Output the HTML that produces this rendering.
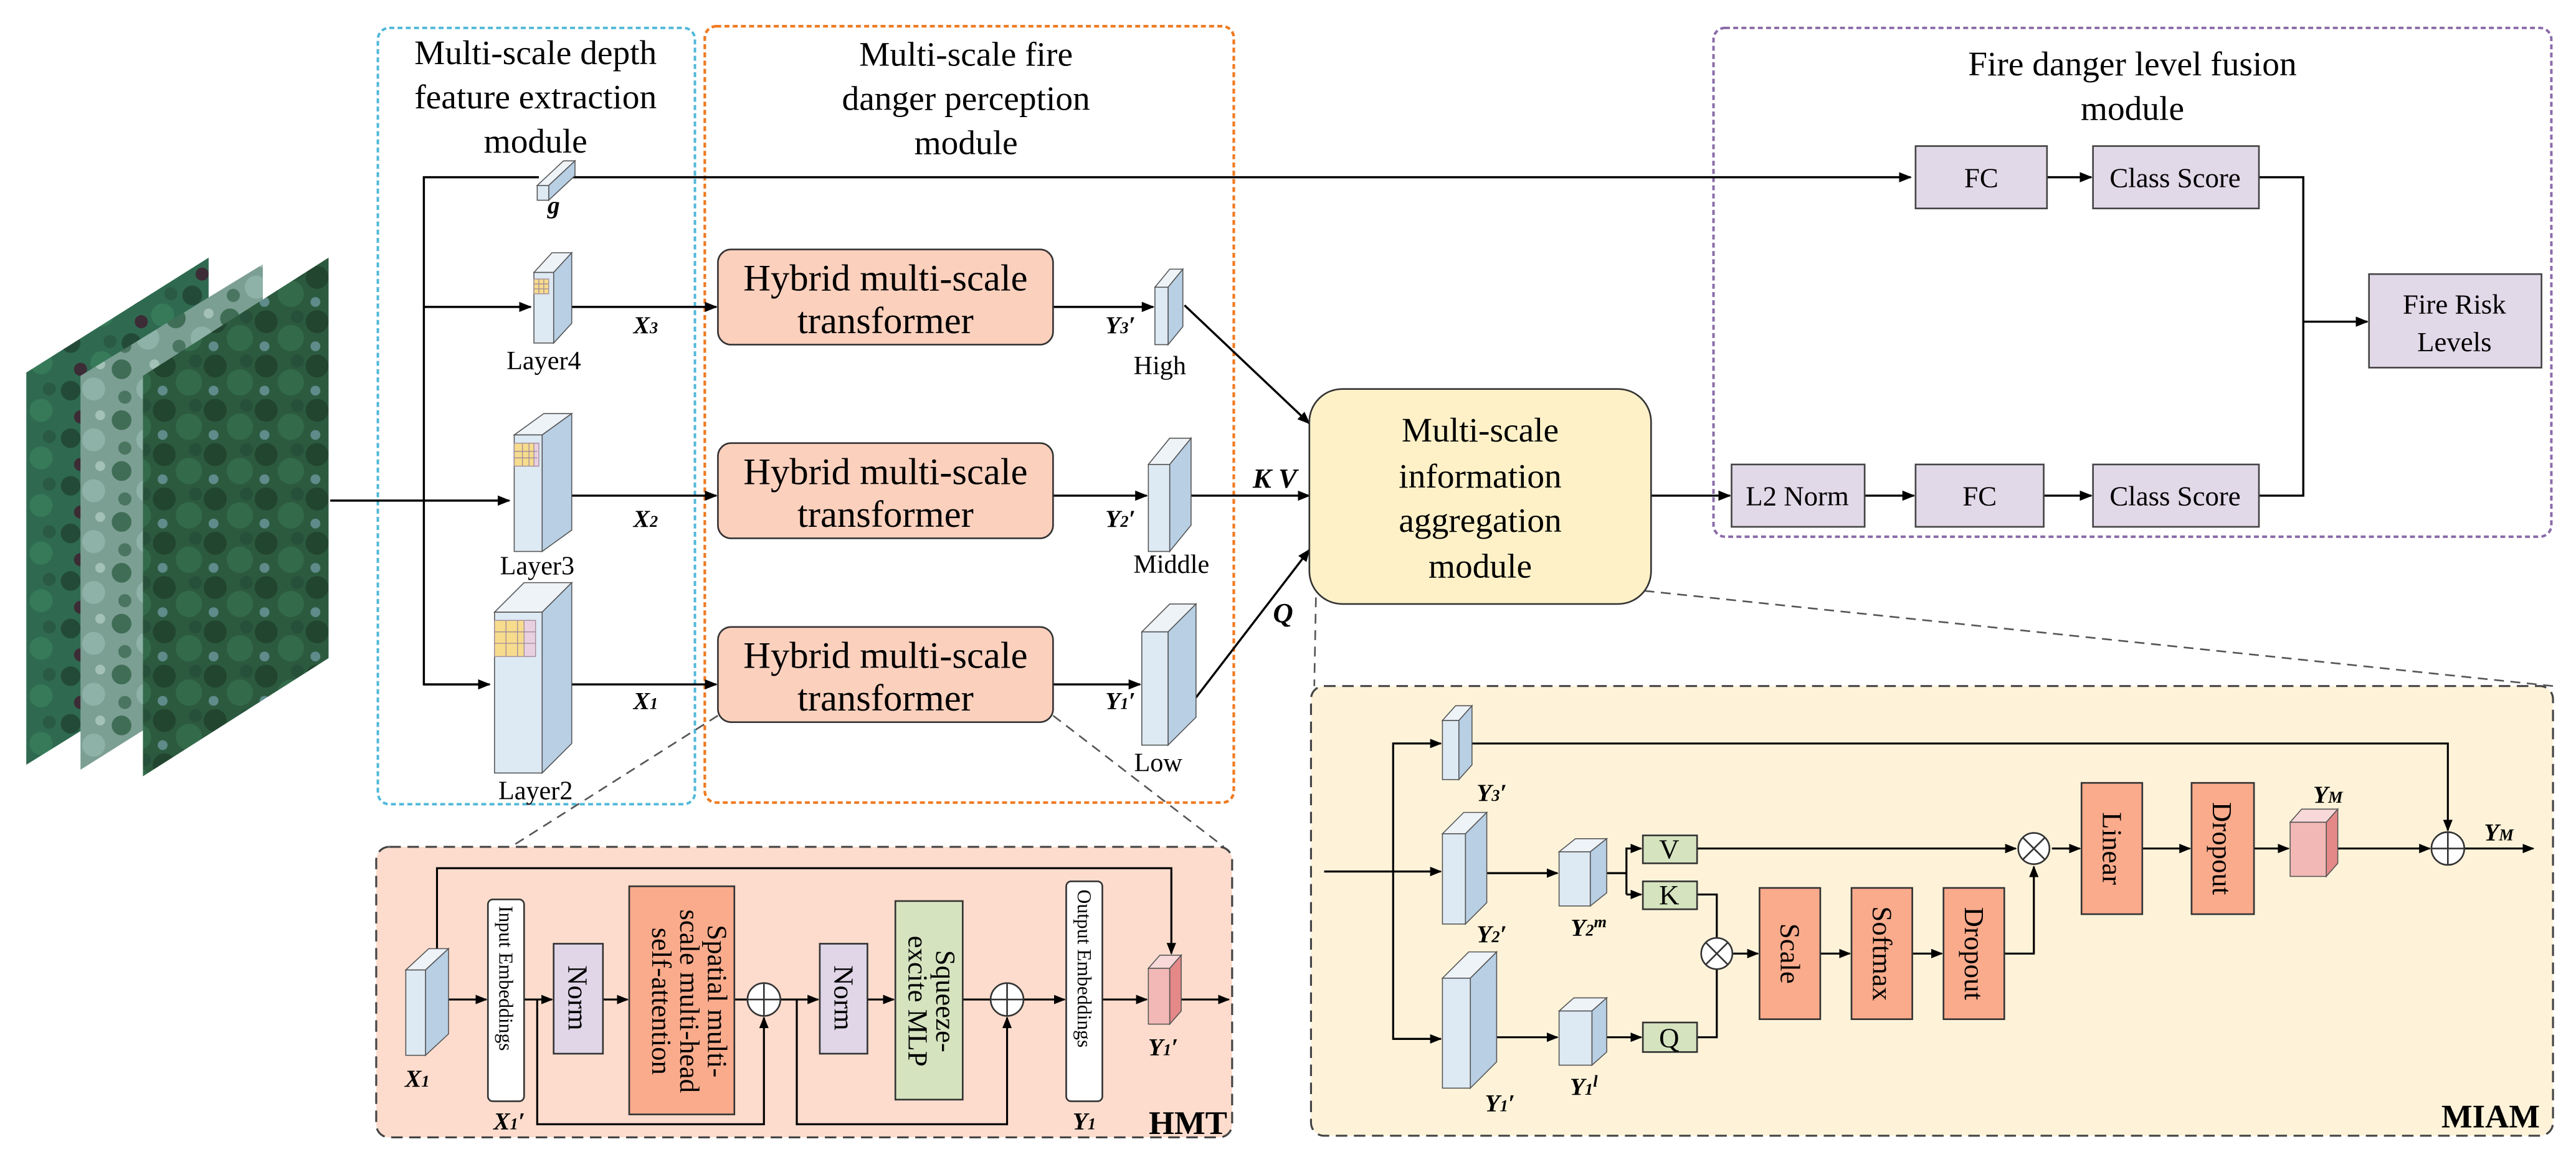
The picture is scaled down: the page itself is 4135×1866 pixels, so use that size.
<!DOCTYPE html>
<html><head><meta charset="utf-8"><style>
html,body{margin:0;padding:0;background:#fff}
svg{display:block}
text{font-family:"Liberation Serif",serif;fill:#000}
.it{font-style:italic;font-weight:bold}
</style></head><body>
<svg width="4135" height="1866" viewBox="0 0 1568 708" preserveAspectRatio="none" xmlns="http://www.w3.org/2000/svg">
<defs>
<marker id="a" viewBox="0 0 10 10" refX="9" refY="5" markerWidth="6" markerHeight="6" orient="auto"><path d="M0,1 L10,5 L0,9 z" fill="#000"/></marker>
<pattern id="t1" width="37" height="29" patternUnits="userSpaceOnUse"><rect width="37" height="29" fill="#2f6a50"/><circle cx="6" cy="6" r="6" fill="#234a38"/><circle cx="25" cy="18" r="7" fill="#367a5a"/><circle cx="12" cy="22" r="4" fill="#3c2c36"/><circle cx="30" cy="5" r="4" fill="#2a5a44"/></pattern>
<pattern id="t2" width="33" height="31" patternUnits="userSpaceOnUse"><rect width="33" height="31" fill="#7c9f94"/><circle cx="8" cy="8" r="6" fill="#3f6d55"/><circle cx="24" cy="20" r="7" fill="#8fb2a8"/><circle cx="10" cy="25" r="4" fill="#4a7560"/><circle cx="28" cy="5" r="3" fill="#a4c1b8"/></pattern>
<pattern id="t3" width="31" height="27" patternUnits="userSpaceOnUse"><rect width="31" height="27" fill="#2c5a3f"/><circle cx="7" cy="7" r="7" fill="#22452f"/><circle cx="22" cy="17" r="8" fill="#336b4a"/><circle cx="6" cy="22" r="3" fill="#5f8c8a"/><circle cx="26" cy="4" r="4" fill="#27503a"/></pattern>
</defs>

<polygon points="16,227 127,157 127,397 16,466" fill="url(#t1)"/>
<polygon points="49,229 160,161 160,399 49,469" fill="url(#t2)"/>
<polygon points="87,229 200,157 200,401 87,473" fill="url(#t3)"/>

<rect x="230" y="17" width="193" height="473" rx="7" fill="none" stroke="#4fb8d8" stroke-width="1.5" stroke-dasharray="3,2"/>
<rect x="429" y="16" width="322" height="473" rx="7" fill="none" stroke="#f07a20" stroke-width="1.6" stroke-dasharray="3,2"/>
<rect x="1043" y="17" width="510" height="310" rx="7" fill="none" stroke="#8a6aa8" stroke-width="1.5" stroke-dasharray="3,2"/>

<g font-size="21" text-anchor="middle">
<text x="326" y="39">Multi-scale depth</text>
<text x="326" y="66">feature extraction</text>
<text x="326" y="93">module</text>
<text x="588" y="40">Multi-scale fire</text>
<text x="588" y="67">danger perception</text>
<text x="588" y="94">module</text>
<text x="1298" y="46">Fire danger level fusion</text>
<text x="1298" y="73">module</text>
</g>

<g stroke="#000" stroke-width="1.3" fill="none">
<line x1="201" y1="305" x2="310" y2="305" marker-end="url(#a)"/>
<polyline points="328,108 258,108 258,417 296,417" />
<line x1="258" y1="417" x2="298" y2="417" marker-end="url(#a)"/>
<line x1="258" y1="187" x2="323" y2="187" marker-end="url(#a)"/>
<line x1="336" y1="108" x2="1163" y2="108" marker-end="url(#a)"/>
<line x1="337" y1="187" x2="436" y2="187" marker-end="url(#a)"/>
<line x1="331" y1="302" x2="436" y2="302" marker-end="url(#a)"/>
<line x1="331" y1="417" x2="436" y2="417" marker-end="url(#a)"/>
<line x1="641" y1="187" x2="702" y2="187" marker-end="url(#a)"/>
<line x1="641" y1="302" x2="698" y2="302" marker-end="url(#a)"/>
<line x1="641" y1="417" x2="694" y2="417" marker-end="url(#a)"/>
<line x1="721" y1="186" x2="797" y2="258" marker-end="url(#a)"/>
<line x1="725" y1="302" x2="797" y2="302" marker-end="url(#a)"/>
<line x1="728" y1="425" x2="797" y2="335" marker-end="url(#a)"/>
<line x1="1005" y1="302" x2="1053" y2="302" marker-end="url(#a)"/>
<line x1="1135" y1="302" x2="1165" y2="302" marker-end="url(#a)"/>
<line x1="1244" y1="302" x2="1273" y2="302" marker-end="url(#a)"/>
<line x1="1246" y1="108" x2="1273" y2="108" marker-end="url(#a)"/>
<polyline points="1375,108 1402,108 1402,302 1375,302"/>
<line x1="1402" y1="196" x2="1441" y2="196" marker-end="url(#a)"/>
</g>
<g stroke="#555" stroke-width="1" stroke-dasharray="6,4" fill="none">
<line x1="437" y1="436" x2="311" y2="516"/>
<line x1="641" y1="436" x2="745" y2="516"/>
<line x1="801" y1="364" x2="800" y2="418"/>
<line x1="1001" y1="360" x2="1554" y2="418"/>
</g>

<g stroke="#555" stroke-width="0.6">
<polygon points="327,113 343,98 350,98 334,113" fill="#eef3f8"/><polygon points="334,113 350,98 350,107 334,122" fill="#b8cfe4"/><rect x="327" y="113" width="7" height="9" fill="#dde9f3"/>
<polygon points="325,166 336,154 348,154 337,166" fill="#eef3f8"/><polygon points="337,166 348,154 348,197 337,209" fill="#b8cfe4"/><rect x="325" y="166" width="12" height="43" fill="#dde9f3"/>
<polygon points="313,265 331,252 348,252 330,265" fill="#eef3f8"/><polygon points="330,265 348,252 348,323 330,336" fill="#b8cfe4"/><rect x="313" y="265" width="17" height="71" fill="#dde9f3"/>
<polygon points="301,373 319,355 348,355 330,373" fill="#eef3f8"/><polygon points="330,373 348,355 348,453 330,471" fill="#b8cfe4"/><rect x="301" y="373" width="29" height="98" fill="#dde9f3"/>
<polygon points="703,175 712,164 720,164 711,175" fill="#eef3f8"/><polygon points="711,175 720,164 720,199 711,210" fill="#b8cfe4"/><rect x="703" y="175" width="8" height="35" fill="#dde9f3"/>
<polygon points="699,283 712,267 725,267 712,283" fill="#eef3f8"/><polygon points="712,283 725,267 725,320 712,336" fill="#b8cfe4"/><rect x="699" y="283" width="13" height="53" fill="#dde9f3"/>
<polygon points="695,385 712,368 728,368 711,385" fill="#eef3f8"/><polygon points="711,385 728,368 728,437 711,454" fill="#b8cfe4"/><rect x="695" y="385" width="16" height="69" fill="#dde9f3"/>
</g>
<g stroke="#a08a9a" stroke-width="0.5">
<rect x="325" y="170" width="9" height="9" fill="#f6dc8c"/><line x1="328" y1="170" x2="328" y2="179"/><line x1="331" y1="170" x2="331" y2="179"/><line x1="325" y1="173" x2="334" y2="173"/><line x1="325" y1="176" x2="334" y2="176"/>
<rect x="313" y="270" width="14" height="14" fill="#f6dc8c"/><rect x="325" y="270" width="3" height="14" fill="#e8d0e0"/><line x1="318" y1="270" x2="318" y2="284"/><line x1="322" y1="270" x2="322" y2="284"/><line x1="313" y1="275" x2="327" y2="275"/><line x1="313" y1="279" x2="327" y2="279"/>
<rect x="301" y="378" width="22" height="22" fill="#f6dc8c"/><rect x="319" y="378" width="7" height="22" fill="#e8d0e0"/><line x1="308" y1="378" x2="308" y2="400"/><line x1="315" y1="378" x2="315" y2="400"/><line x1="301" y1="385" x2="326" y2="385"/><line x1="301" y1="392" x2="326" y2="392"/>
</g>

<g fill="#fbd0bd" stroke="#333" stroke-width="1">
<rect x="437" y="152" width="204" height="58" rx="8"/>
<rect x="437" y="270" width="204" height="58" rx="8"/>
<rect x="437" y="382" width="204" height="58" rx="8"/>
</g>
<g font-size="23" text-anchor="middle">
<text x="539" y="177">Hybrid multi-scale</text><text x="539" y="203">transformer</text>
<text x="539" y="295">Hybrid multi-scale</text><text x="539" y="321">transformer</text>
<text x="539" y="407">Hybrid multi-scale</text><text x="539" y="433">transformer</text>
</g>
<g font-size="16" text-anchor="middle">
<text x="331" y="225">Layer4</text><text x="327" y="350">Layer3</text><text x="326" y="487">Layer2</text>
<text x="706" y="228">High</text><text x="713" y="349">Middle</text><text x="705" y="470">Low</text>
</g>
<g font-size="15" class="it" text-anchor="middle">
<text x="337" y="130">g</text>
<text x="393" y="203">X<tspan font-size="10">3</tspan></text>
<text x="393" y="321">X<tspan font-size="10">2</tspan></text>
<text x="393" y="432">X<tspan font-size="10">1</tspan></text>
<text x="682" y="203">Y<tspan font-size="10">3</tspan>′</text>
<text x="682" y="321">Y<tspan font-size="10">2</tspan>′</text>
<text x="682" y="432">Y<tspan font-size="10">1</tspan>′</text>
<text x="776" y="297" font-size="17">K V</text>
<text x="781" y="379" font-size="17">Q</text>
</g>

<rect x="797" y="237" width="208" height="131" rx="20" fill="#fef1c8" stroke="#333" stroke-width="1"/>
<g font-size="21" text-anchor="middle">
<text x="901" y="269">Multi-scale</text><text x="901" y="297">information</text><text x="901" y="324">aggregation</text><text x="901" y="352">module</text>
</g>

<g fill="#e1d8e8" stroke="#444" stroke-width="1">
<rect x="1166" y="89" width="80" height="38"/>
<rect x="1274" y="89" width="101" height="38"/>
<rect x="1442" y="167" width="105" height="57"/>
<rect x="1054" y="283" width="81" height="38"/>
<rect x="1166" y="283" width="78" height="38"/>
<rect x="1274" y="283" width="101" height="38"/>
</g>
<g font-size="17" text-anchor="middle">
<text x="1206" y="114">FC</text><text x="1324" y="114">Class Score</text>
<text x="1494" y="191">Fire Risk</text><text x="1494" y="214">Levels</text>
<text x="1094" y="308">L2 Norm</text><text x="1205" y="308">FC</text><text x="1324" y="308">Class Score</text>
</g>

<rect x="229" y="516" width="521" height="177" rx="8" fill="#fddccd" stroke="#444" stroke-width="1.2" stroke-dasharray="7,4"/>
<g stroke="#000" stroke-width="1.2" fill="none">
<polyline points="266,578 266,529 713,529 713,581" marker-end="url(#a)"/>
<line x1="273" y1="609" x2="296" y2="609" marker-end="url(#a)"/>
<line x1="319" y1="609" x2="336" y2="609" marker-end="url(#a)"/>
<line x1="367" y1="609" x2="382" y2="609" marker-end="url(#a)"/>
<line x1="447" y1="609" x2="455" y2="609"/>
<line x1="475" y1="609" x2="498" y2="609" marker-end="url(#a)"/>
<line x1="528" y1="609" x2="544" y2="609" marker-end="url(#a)"/>
<line x1="586" y1="609" x2="603" y2="609"/>
<line x1="623" y1="609" x2="648" y2="609" marker-end="url(#a)"/>
<line x1="671" y1="609" x2="698" y2="609" marker-end="url(#a)"/>
<line x1="719" y1="609" x2="748" y2="609" marker-end="url(#a)"/>
<polyline points="327,609 327,685 465,685 465,620" marker-end="url(#a)"/>
<polyline points="485,609 485,685 613,685 613,620" marker-end="url(#a)"/>
</g>
<g stroke="#555" stroke-width="0.6">
<polygon points="247,591 261,578 273,578 259,591" fill="#eef3f8"/><polygon points="259,591 273,578 273,630 259,643" fill="#b8cfe4"/><rect x="247" y="591" width="12" height="52" fill="#dde9f3"/>
<polygon points="699,590 706,582 719,582 712,590" fill="#f8d8d8"/><polygon points="712,590 719,582 719,616 712,624" fill="#e48888"/><rect x="699" y="590" width="13" height="34" fill="#f2b8b5"/>
</g>
<g stroke="#333" stroke-width="1">
<rect x="297" y="548" width="22" height="123" rx="3" fill="#fff"/>
<rect x="337" y="575" width="30" height="67" fill="#e0d6e8"/>
<rect x="383" y="540" width="64" height="139" fill="#f9ab8c"/>
<rect x="499" y="575" width="29" height="67" fill="#e0d6e8"/>
<rect x="545" y="549" width="41" height="121" fill="#d5e3bf"/>
<rect x="649" y="537" width="22" height="134" rx="3" fill="#fff"/>
<circle cx="465" cy="609" r="10" fill="#fff"/><circle cx="613" cy="609" r="10" fill="#fff"/>
<line x1="455" y1="609" x2="475" y2="609"/><line x1="465" y1="599" x2="465" y2="619"/>
<line x1="603" y1="609" x2="623" y2="609"/><line x1="613" y1="599" x2="613" y2="619"/>
</g>
<g font-size="12">
<text transform="translate(304,552) rotate(90)">Input Embeddings</text>
<text transform="translate(656,542) rotate(90)">Output Embeddings</text>
</g>
<g font-size="17" text-anchor="middle">
<text transform="translate(346,608) rotate(90)">Norm</text>
<text transform="translate(508,608) rotate(90)">Norm</text>
<text transform="translate(431,610) rotate(90)">Spatial multi-</text>
<text transform="translate(414,610) rotate(90)">scale multi-head</text>
<text transform="translate(397,610) rotate(90)">self-attention</text>
<text transform="translate(570,610) rotate(90)">Squeeze-</text>
<text transform="translate(553,610) rotate(90)">excite MLP</text>
</g>
<g font-size="15" class="it" text-anchor="middle">
<text x="254" y="662">X<tspan font-size="10">1</tspan></text>
<text x="310" y="688">X<tspan font-size="10">1</tspan>′</text>
<text x="660" y="688">Y<tspan font-size="10">1</tspan></text>
<text x="708" y="643">Y<tspan font-size="10">1</tspan>′</text>
</g>
<text x="747" y="691" font-size="20" font-weight="bold" text-anchor="end">HMT</text>

<rect x="798" y="418" width="756" height="274" rx="8" fill="#fef3d9" stroke="#444" stroke-width="1.2" stroke-dasharray="7,4"/>
<g stroke="#000" stroke-width="1.2" fill="none">
<line x1="806" y1="531" x2="877" y2="531" marker-end="url(#a)"/>
<polyline points="877,453 848,453 848,633 877,633" />
<line x1="848" y1="453" x2="877" y2="453" marker-end="url(#a)"/>
<line x1="848" y1="633" x2="877" y2="633" marker-end="url(#a)"/>
<polyline points="896,453 1490,453 1490,506" marker-end="url(#a)"/>
<line x1="905" y1="532" x2="948" y2="532" marker-end="url(#a)"/>
<line x1="911" y1="632" x2="948" y2="632" marker-end="url(#a)"/>
<line x1="978" y1="632" x2="999" y2="632" marker-end="url(#a)"/>
<polyline points="978,532 990,532"/>
<polyline points="990,545 990,517 999,517" marker-end="url(#a)"/>
<line x1="990" y1="545" x2="999" y2="545" marker-end="url(#a)"/>
<polyline points="1033,545 1045,545 1045,572"/>
<polyline points="1033,632 1045,632 1045,590"/>
<line x1="1055" y1="581" x2="1070" y2="581" marker-end="url(#a)"/>
<line x1="1108" y1="581" x2="1126" y2="581" marker-end="url(#a)"/>
<line x1="1164" y1="581" x2="1182" y2="581" marker-end="url(#a)"/>
<polyline points="1220,581 1238,581 1238,528" marker-end="url(#a)"/>
<line x1="1033" y1="517" x2="1227" y2="517" marker-end="url(#a)"/>
<line x1="1249" y1="517" x2="1266" y2="517" marker-end="url(#a)"/>
<line x1="1304" y1="517" x2="1333" y2="517" marker-end="url(#a)"/>
<line x1="1372" y1="517" x2="1393" y2="517" marker-end="url(#a)"/>
<line x1="1423" y1="517" x2="1479" y2="517" marker-end="url(#a)"/>
<line x1="1500" y1="517" x2="1542" y2="517" marker-end="url(#a)"/>
</g>
<g stroke="#555" stroke-width="0.6">
<polygon points="878,439 886,430 896,430 888,439" fill="#eef3f8"/><polygon points="888,439 896,430 896,466 888,475" fill="#b8cfe4"/><rect x="878" y="439" width="10" height="36" fill="#dde9f3"/>
<polygon points="878,508 891,495 905,495 892,508" fill="#eef3f8"/><polygon points="892,508 905,495 905,550 892,563" fill="#b8cfe4"/><rect x="878" y="508" width="14" height="55" fill="#dde9f3"/>
<polygon points="878,596 894,580 911,580 895,596" fill="#eef3f8"/><polygon points="895,596 911,580 911,647 895,663" fill="#b8cfe4"/><rect x="878" y="596" width="17" height="67" fill="#dde9f3"/>
<polygon points="949,519 959,511 978,511 968,519" fill="#eef3f8"/><polygon points="968,519 978,511 978,544 968,552" fill="#b8cfe4"/><rect x="949" y="519" width="19" height="33" fill="#dde9f3"/>
<polygon points="949,616 958,608 978,608 969,616" fill="#eef3f8"/><polygon points="969,616 978,608 978,641 969,649" fill="#b8cfe4"/><rect x="949" y="616" width="20" height="33" fill="#dde9f3"/>
<polygon points="1394,501 1401,493 1423,493 1416,501" fill="#f8d8d8"/><polygon points="1416,501 1423,493 1423,526 1416,534" fill="#e48888"/><rect x="1394" y="501" width="22" height="33" fill="#f2b8b5"/>
</g>
<g stroke="#333" stroke-width="1">
<rect x="1000" y="509" width="33" height="17" fill="#d5e3bf"/>
<rect x="1000" y="537" width="33" height="17" fill="#d5e3bf"/>
<rect x="1000" y="623" width="33" height="18" fill="#d5e3bf"/>
<rect x="1071" y="541" width="37" height="80" fill="#f9ab8c"/>
<rect x="1127" y="541" width="37" height="80" fill="#f9ab8c"/>
<rect x="1183" y="541" width="37" height="80" fill="#f9ab8c"/>
<rect x="1267" y="477" width="37" height="80" fill="#f9ab8c"/>
<rect x="1334" y="477" width="38" height="80" fill="#f9ab8c"/>
<circle cx="1045" cy="581" r="9.5" fill="#fff"/><line x1="1038" y1="574" x2="1052" y2="588"/><line x1="1052" y1="574" x2="1038" y2="588"/>
<circle cx="1238" cy="517" r="9.5" fill="#fff"/><line x1="1231" y1="510" x2="1245" y2="524"/><line x1="1245" y1="510" x2="1231" y2="524"/>
<circle cx="1490" cy="517" r="10" fill="#fff"/><line x1="1480" y1="517" x2="1500" y2="517"/><line x1="1490" y1="507" x2="1490" y2="527"/>
</g>
<g font-size="17" text-anchor="middle">
<text x="1016" y="523">V</text><text x="1016" y="551">K</text><text x="1016" y="638">Q</text>
<text transform="translate(1084,581) rotate(90)">Scale</text>
<text transform="translate(1140,581) rotate(90)">Softmax</text>
<text transform="translate(1196,581) rotate(90)">Dropout</text>
<text transform="translate(1280,517) rotate(90)">Linear</text>
<text transform="translate(1347,517) rotate(90)">Dropout</text>
</g>
<g font-size="15" class="it" text-anchor="middle">
<text x="908" y="488">Y<tspan font-size="10">3</tspan>′</text>
<text x="908" y="574">Y<tspan font-size="10">2</tspan>′</text>
<text x="967" y="570">Y<tspan font-size="10">2</tspan><tspan font-size="10" dy="-5">m</tspan></text>
<text x="913" y="677">Y<tspan font-size="10">1</tspan>′</text>
<text x="964" y="667">Y<tspan font-size="10">1</tspan><tspan font-size="10" dy="-5">l</tspan></text>
<text x="1417" y="489">Y<tspan font-size="10">M</tspan></text>
<text x="1521" y="512">Y<tspan font-size="10">M</tspan></text>
</g>
<text x="1546" y="687" font-size="20" font-weight="bold" text-anchor="end">MIAM</text>
</svg>
</body></html>
